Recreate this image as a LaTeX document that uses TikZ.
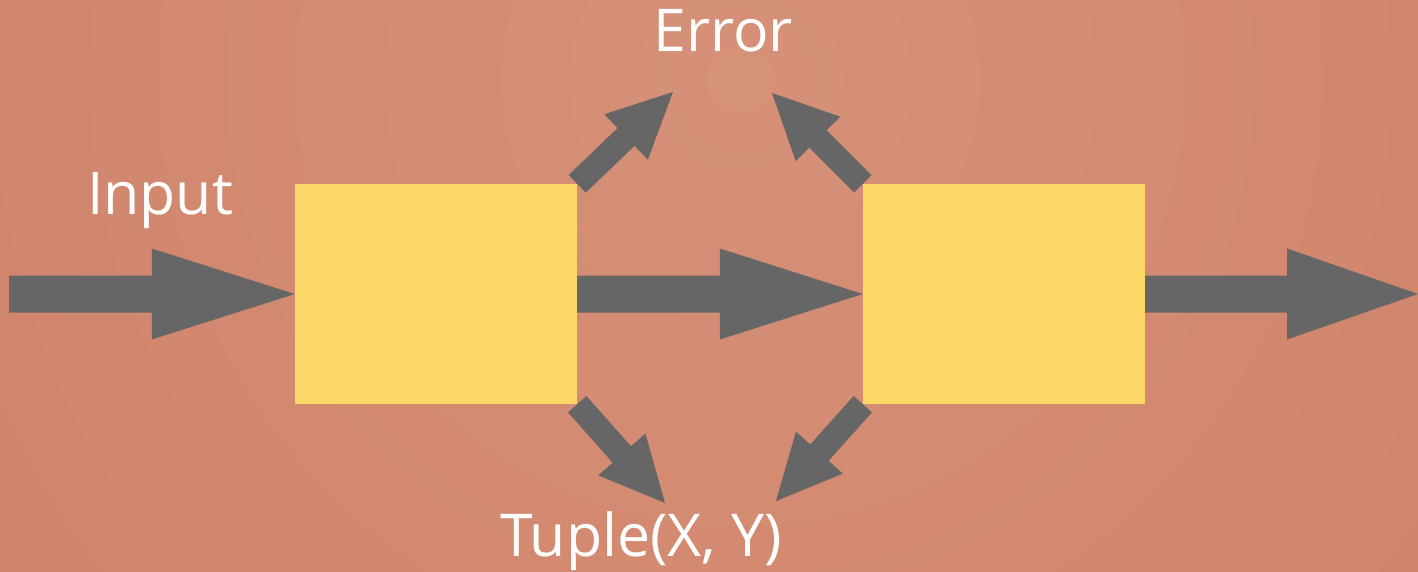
\documentclass[tikz,border=0pt]{standalone}
\usepackage{fontspec}
\setmainfont{Open Sans}
\usetikzlibrary{calc}

\definecolor{bginner}{HTML}{D69179}
\definecolor{bgouter}{HTML}{C9765A}
\definecolor{boxfill}{HTML}{FED866}
\definecolor{arrowgray}{HTML}{666666}

% Block arrow from #1 to #2: shaft half-width #3, head half-width #4, head length #5
\newcommand\blockarrow[5]{%
  \coordinate (hb) at ($(#2)!#5!(#1)$);
  \fill[arrowgray]
    ($(#1)!#3!90:(#2)$) -- ($(hb)!#3!-90:(#1)$) -- ($(hb)!#4!-90:(#1)$) --
    (#2) --
    ($(hb)!#4!90:(#1)$) -- ($(hb)!#3!90:(#1)$) -- ($(#1)!#3!-90:(#2)$) -- cycle;
}

\begin{document}
\begin{tikzpicture}[x=1pt,y=-1pt,
    stage/.style={fill=boxfill, draw=none, minimum width=282pt, minimum height=220pt, inner sep=0pt},
    label/.style={text=white, inner sep=0pt, anchor=base, font=\fontsize{59}{70}\selectfont}]
  \useasboundingbox (0,0) rectangle (1418,571);

  % background
  \begin{scope}
    \clip (0,0) rectangle (1418,571);
    \shade[inner color=bginner, outer color=bgouter] (740,80) circle (1850);
  \end{scope}

  % processing stages
  \node[stage] (s1) at (436,294) {};
  \node[stage] (s2) at (1004,294) {};

  % labels
  \node[label] (lin)  at (160,214) {Input};
  \node[label] (lerr) at (723,51) {Error};
  \node[label] (ltup) at (641,556) {Tuple(X, Y)};

  % arrow end points
  \coordinate (src) at (9,294);
  \coordinate (dst) at (1418,294);
  \coordinate (e1) at (673,92);
  \coordinate (e2) at (772,93);
  \coordinate (t1) at (665,503);
  \coordinate (t2) at (776,501);

  % main flow
  \blockarrow{src}{s1.west}{18.5pt}{45.5pt}{143pt}
  \blockarrow{s1.east}{s2.west}{18.5pt}{45.5pt}{143pt}
  \blockarrow{s2.east}{dst}{18.5pt}{45.5pt}{131pt}

  % error branches
  \blockarrow{s1.north east}{e1}{12.3pt}{31.5pt}{65pt}
  \blockarrow{s2.north west}{e2}{12.3pt}{31.5pt}{65pt}

  % result branches
  \blockarrow{s1.south east}{t1}{12.3pt}{31.5pt}{65pt}
  \blockarrow{s2.south west}{t2}{12.3pt}{31.5pt}{65pt}
\end{tikzpicture}
\end{document}
